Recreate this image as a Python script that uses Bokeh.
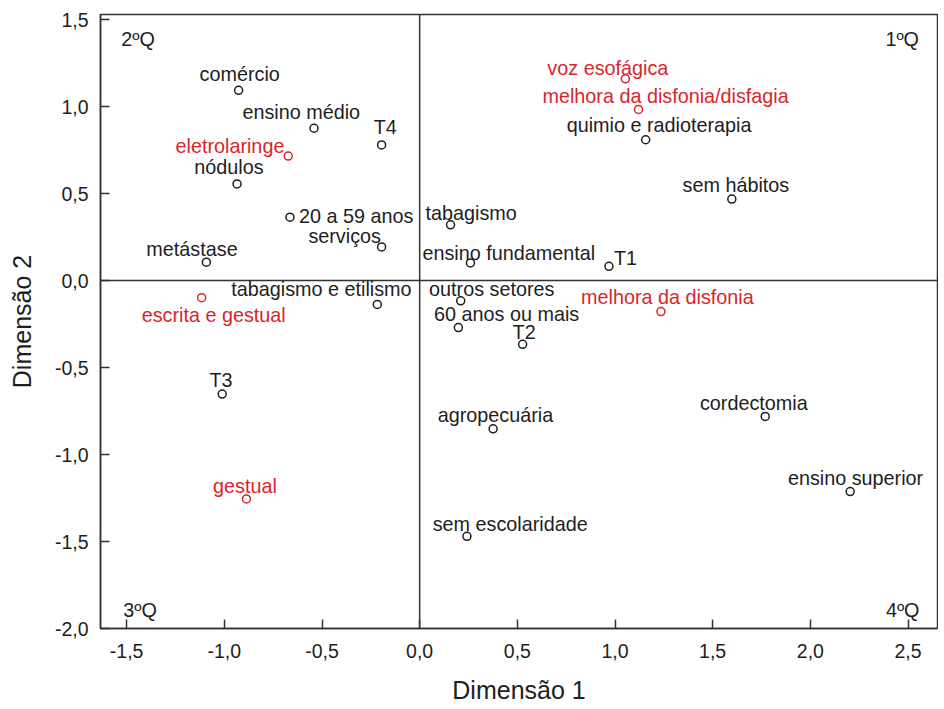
from bokeh.plotting import figure
from bokeh.models import ColumnDataSource, Span, FixedTicker, CustomJSTickFormatter, Range1d
from bokeh.core.properties import value
from bokeh.embed import file_html
from bokeh.resources import INLINE

# ---- data ----
black_labels = ["comércio", "ensino médio", "T4", "nódulos", "20 a 59 anos", "serviços",
                "metástase", "tabagismo e etilismo", "quimio e radioterapia", "tabagismo",
                "ensino fundamental", "T1", "outros setores", "sem hábitos", "60 anos ou mais",
                "T2", "agropecuária", "cordectomia", "ensino superior", "sem escolaridade", "T3"]
black_dim1 = [-0.927, -0.541, -0.195, -0.935, -0.664, -0.195, -1.092, -0.217, 1.157, 0.158,
              0.260, 0.969, 0.210, 1.598, 0.198, 0.527, 0.376, 1.769, 2.204, 0.242, -1.011]
black_dim2 = [1.094, 0.876, 0.780, 0.556, 0.365, 0.194, 0.106, -0.137, 0.810, 0.321,
              0.102, 0.082, -0.116, 0.469, -0.270, -0.366, -0.852, -0.781, -1.213, -1.470, -0.652]

red_labels = ["voz esofágica", "melhora da disfonia/disfagia", "eletrolaringe",
              "escrita e gestual", "melhora da disfonia", "gestual"]
red_dim1 = [1.053, 1.120, -0.673, -1.116, 1.235, -0.887]
red_dim2 = [1.160, 0.984, 0.716, -0.098, -0.178, -1.255]

quadrant_labels = ["1ºQ", "2ºQ", "3ºQ", "4ºQ"]
x_ticks = [-1.5, -1.0, -0.5, 0.0, 0.5, 1.0, 1.5, 2.0, 2.5]
y_ticks = [-2.0, -1.5, -1.0, -0.5, 0.0, 0.5, 1.0, 1.5]

# ---- label placement (pixels, relative to marker; style only) ----
SHIFT = -6
black_dx = [-39, -71.6, -7.8, -42.7, 9, -73.2, -60, -146, -79, -25,
            -48, 5, -31.6, -49.3, -24.3, -10, -55.4, -65.3, -62.3, -34.3, -12.7]
black_dy = [d + SHIFT for d in [-10.3, -10, -11.6, -11.4, 4.7, -5, -7.6, -9, -8.3, -5.3,
                                -4.3, -2.3, -6, -8.3, -8, -6.7, -7.7, -7, -7.4, -6.7, -7.7]]
red_dx = [-78, -96, -112.7, -60, -79.8, -33.4]
red_dy = [d + SHIFT for d in [-5, -7.6, -4, 23.3, -8.3, -6.6]]

BLACK = "#1e1e1e"
RED = "#d8262c"
FONT = "Liberation Sans"
FS = "19.8px"
XR = (-1.634, 2.651)
YR = (-2.0, 1.530)

p = figure(width=938, height=706, output_backend="svg", toolbar_location=None,
           x_range=Range1d(*XR), y_range=Range1d(*YR),
           min_border_left=100, min_border_right=1, min_border_top=14, min_border_bottom=76)
p.background_fill_color = "white"
p.border_fill_color = "white"
p.outline_line_color = "#333333"
p.outline_line_width = 1.5
p.grid.visible = False

fmt = CustomJSTickFormatter(code="return tick.toFixed(1).replace('.', ',').replace('-0,0','0,0');")
for ax, ticks in ((p.xaxis[0], x_ticks), (p.yaxis[0], y_ticks)):
    ax.ticker = FixedTicker(ticks=ticks, minor_ticks=[])
    ax.formatter = fmt
    ax.major_tick_in = 9
    ax.major_tick_out = 0
    ax.minor_tick_line_color = None
    ax.major_tick_line_color = "#333333"
    ax.major_tick_line_width = 1.5
    ax.axis_line_color = "#333333"
    ax.axis_line_width = 1.5
    ax.major_label_text_font = FONT
    ax.major_label_text_font_size = "19.5px"
    ax.major_label_text_color = BLACK
    ax.axis_label_text_font = FONT
    ax.axis_label_text_font_size = "25px"
    ax.axis_label_text_font_style = "normal"
    ax.axis_label_text_color = BLACK

p.xaxis.axis_label = "Dimensão 1"
p.yaxis.axis_label = "Dimensão 2"
p.xaxis.major_label_standoff = 15
p.xaxis.axis_label_standoff = 15
p.yaxis.major_label_standoff = 12
p.yaxis.axis_label_standoff = 16

p.add_layout(Span(location=0, dimension="width", line_color="#333333", line_width=1.5))
p.add_layout(Span(location=0, dimension="height", line_color="#333333", line_width=1.5))

bsrc = ColumnDataSource(dict(x=black_dim1, y=black_dim2, t=black_labels, dx=black_dx, dy=black_dy))
rsrc = ColumnDataSource(dict(x=red_dim1, y=red_dim2, t=red_labels, dx=red_dx, dy=red_dy))

for src, col in ((bsrc, BLACK), (rsrc, RED)):
    p.scatter("x", "y", source=src, marker="circle", size=8, fill_color="white",
              line_color=col, line_width=1.5)
    p.text("x", "y", text="t", source=src, x_offset="dx", y_offset="dy",
           text_font=value(FONT), text_font_size=FS, text_color=col,
           text_align="left", text_baseline="alphabetic")

# quadrant labels at frame corners
qsrc_l = ColumnDataSource(dict(x=[XR[0], XR[0]], y=[YR[1], YR[0]], t=[quadrant_labels[1], quadrant_labels[2]],
                               dx=[20.7, 22.7], dy=[24, -19]))
qsrc_r = ColumnDataSource(dict(x=[XR[1], XR[1]], y=[YR[1], YR[0]], t=[quadrant_labels[0], quadrant_labels[3]],
                               dx=[-18.5, -18], dy=[24, -19]))
for src, al in ((qsrc_l, "left"), (qsrc_r, "right")):
    p.text("x", "y", text="t", source=src, x_offset="dx", y_offset="dy",
           text_font=value(FONT), text_font_size=FS, text_color=BLACK,
           text_align=al, text_baseline="alphabetic")

open("out.html", "w").write(file_html(p, INLINE))
